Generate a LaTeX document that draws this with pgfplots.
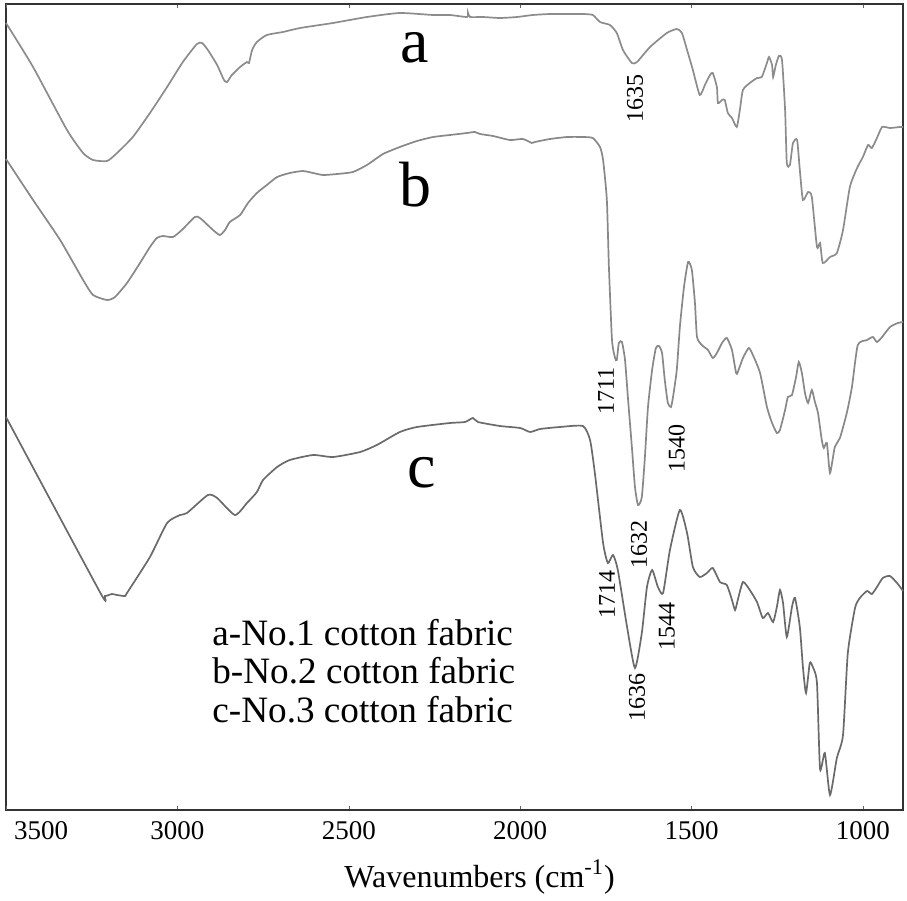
\documentclass[border=0pt]{standalone}
\usepackage{fontspec}
\setmainfont{Liberation Serif}
\usepackage{pgfplots}
\pgfplotsset{compat=1.18}

\definecolor{specA}{HTML}{8C8C8C}
\definecolor{specB}{HTML}{888888}
\definecolor{specC}{HTML}{6A6A6A}

\begin{document}
\begin{tikzpicture}
\begin{axis}[
    name=ax,
    scale only axis,
    width=448.5pt, height=403pt,
    x dir=reverse,
    xmin=883, xmax=3500,
    ymin=0, ymax=806,
    xtick={1000,1500,2000,2500,3000},
    extra x ticks={3500},
    extra x tick style={xticklabel style={anchor=north west, xshift=0.5pt}},
    ytick=\empty,
    major tick length=2pt,
    tick style={black!60},
    tick label style={font=\fontsize{13.5}{16}\selectfont},
    xticklabel style={yshift=-2pt},
    /pgf/number format/assume math mode=true,
    /pgf/number format/1000 sep={},
    axis line style={black!80, line width=1pt},
    xlabel={Wavenumbers (cm\textsuperscript{-1})},
    xlabel style={font=\fontsize{16}{19}\selectfont,
        at={(axis description cs:0.528,0)}, anchor=base, yshift=-38.5pt},
    clip=false,
    every axis plot/.append style={smooth, tension=0.35, line width=0.85pt},
]
% a - No.1
\addplot[specA] coordinates {
    (3500,787) (3421,743) (3322,680) (3275,657) (3246,650) (3205,649)
    (3176,657) (3130,673) (3080,697) (3030,723) (2984,748) (2943,766)
    (2928,767) (2911,760) (2884,745) (2864,730) (2855,728) (2841,735)
    (2817,743) (2797,748) (2791,747) (2782,760) (2768,768) (2739,775)
    (2692,778) (2642,782) (2546,787) (2447,793) (2351,797) (2254,795)
    (2205,795) (2155,793) (2152,797) (2146,793) (2109,793) (2059,792)
    (2009,793) (1963,795) (1913,796) (1863,796) (1817,796) (1788,795)
    (1767,788) (1738,785) (1718,777) (1700,760) (1674,747) (1659,748)
    (1621,763) (1572,777) (1543,781) (1528,777) (1513,760) (1496,740)
    (1476,715) (1461,725) (1446,735) (1438,737) (1426,723) (1423,707)
    (1411,710) (1403,710) (1394,697) (1382,692) (1368,683) (1359,700)
    (1350,720) (1330,727) (1309,732) (1295,733) (1280,747) (1274,753)
    (1265,745) (1262,733) (1254,745) (1245,754) (1236,750) (1227,700)
    (1222,647) (1213,645) (1204,667) (1192,670) (1184,640) (1175,610)
    (1160,618) (1149,613) (1134,563) (1125,567) (1117,547) (1096,553)
    (1076,557) (1058,580) (1038,623) (1017,642) (1000,653) (985,665)
    (974,662) (959,672) (944,683) (921,682) (892,683) (883,683)
};
% b - No.2
\addplot[specB] coordinates {
    (3500,651) (3421,610) (3342,570) (3275,530) (3246,515) (3205,510)
    (3182,513) (3147,527) (3109,547) (3080,563) (3060,572) (3042,574)
    (3013,573) (2987,580) (2949,593) (2934,592) (2896,580) (2876,575)
    (2861,580) (2847,588) (2817,595) (2794,607) (2768,617) (2739,625)
    (2709,633) (2672,637) (2634,639) (2604,637) (2575,635) (2534,636)
    (2488,638) (2447,645) (2400,656) (2351,663) (2301,669) (2254,673)
    (2205,675) (2155,677) (2132,678) (2117,676) (2079,674) (2030,670)
    (1992,671) (1966,667) (1957,668) (1913,671) (1863,673) (1817,673)
    (1788,672) (1767,663) (1758,650) (1747,610) (1741,543) (1732,470)
    (1723,452) (1718,450) (1712,467) (1703,468) (1694,450) (1685,410)
    (1674,363) (1665,323) (1656,305) (1645,313) (1636,353) (1627,403)
    (1615,440) (1604,462) (1595,464) (1586,457) (1578,430) (1569,407)
    (1560,403) (1554,413) (1543,440) (1534,483) (1522,523) (1510,548)
    (1499,540) (1490,507) (1484,473) (1470,465) (1452,460) (1438,452)
    (1426,457) (1411,467) (1397,472) (1382,460) (1370,437) (1365,438)
    (1350,452) (1333,462) (1321,455) (1300,437) (1280,403) (1265,387)
    (1251,377) (1242,380) (1227,400) (1219,413) (1207,415) (1195,433)
    (1187,448) (1178,437) (1169,417) (1160,407) (1149,420) (1140,408)
    (1131,397) (1120,370) (1114,362) (1105,367) (1096,337) (1082,363)
    (1067,372) (1047,397) (1032,423) (1015,465) (988,470) (971,473)
    (959,468) (944,473) (921,483) (898,487) (883,488)
};
% c - No.3
\addplot[specC] coordinates {
    (3500,393) (3226,218) (3211,214) (3191,216) (3176,215) (3153,214)
    (3147,217) (3080,253) (3030,287) (2992,295) (2972,297) (2911,315)
    (2884,312) (2832,295) (2797,307) (2768,318) (2750,330) (2709,343)
    (2672,350) (2604,355) (2546,353) (2467,358) (2418,365) (2351,378)
    (2301,383) (2205,387) (2161,388) (2138,392) (2123,388) (2059,384)
    (2000,382) (1971,378) (1942,381) (1884,383) (1817,384) (1796,370)
    (1782,337) (1758,267) (1744,247) (1729,255) (1715,240) (1688,183)
    (1665,142) (1645,177) (1630,223) (1615,240) (1598,223) (1583,217)
    (1563,260) (1534,300) (1513,277) (1496,243) (1476,233) (1455,237)
    (1438,242) (1417,228) (1397,225) (1382,210) (1373,200) (1365,210)
    (1350,228) (1330,220) (1309,208) (1292,192) (1277,197) (1262,188)
    (1251,203) (1242,220) (1233,207) (1222,173) (1207,203) (1198,212)
    (1184,183) (1175,143) (1166,117) (1155,147) (1146,143) (1134,127)
    (1125,41) (1111,57) (1096,15) (1076,52) (1058,75) (1044,157)
    (1023,202) (1009,212) (988,219) (974,216) (959,223) (942,232)
    (921,234) (898,226) (883,219)
};
% curve letters
\node[font=\fontsize{32}{36}\selectfont] at (axis cs:2307,762) {a};
\node[font=\fontsize{32}{36}\selectfont] at (axis cs:2304,625) {b};
\node[font=\fontsize{32}{36}\selectfont] at (axis cs:2286,337) {c};
% peak labels
\begin{scope}[every node/.style={rotate=90, font=\fontsize{12}{14}\selectfont, inner sep=0pt}]
\node at (axis cs:1665,712) {1635};
\node at (axis cs:1750,419) {1711};
\node at (axis cs:1543,362) {1540};
\node at (axis cs:1653,266) {1632};
\node at (axis cs:1747,216) {1714};
\node at (axis cs:1572,184) {1544};
\node at (axis cs:1659,113) {1636};
\end{scope}
% sample key
\begin{scope}[every node/.style={anchor=base west, inner sep=0pt, font=\fontsize{18.6}{22}\selectfont}]
\node at (axis cs:2899,165) {a-No.1 cotton fabric};
\node at (axis cs:2899,127) {b-No.2 cotton fabric};
\node at (axis cs:2899,88) {c-No.3 cotton fabric};
\end{scope}
\end{axis}
\path ([xshift=-3pt,yshift=2pt]ax.north west) rectangle ([xshift=2pt,yshift=-43.5pt]ax.south east);
\end{tikzpicture}
\end{document}
